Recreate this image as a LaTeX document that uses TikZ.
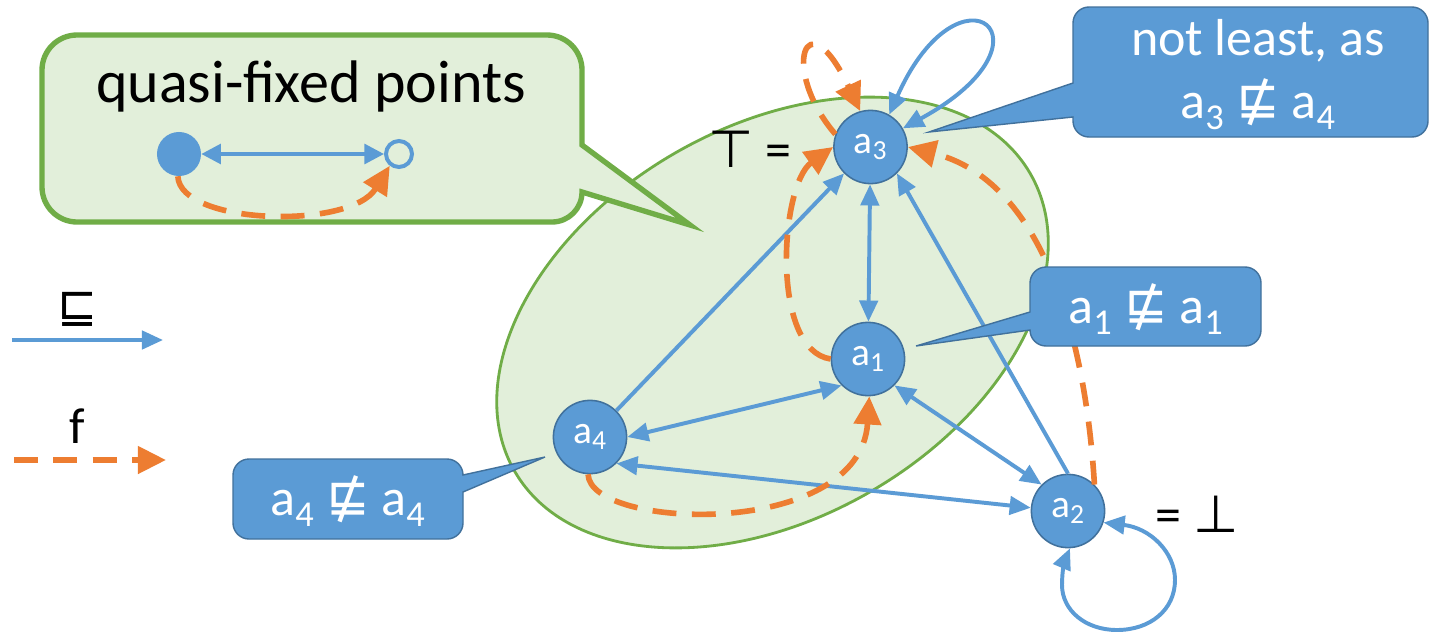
\documentclass[tikz,border=0pt]{standalone}
\usepackage{fontspec}
\setmainfont{Carlito}
\newfontfamily\symf{DejaVu Sans}
\usetikzlibrary{shapes.geometric,arrows.meta}
\definecolor{ublue}{HTML}{5B9BD5}
\definecolor{dblue}{HTML}{41719C}
\definecolor{uorange}{HTML}{ED7D31}
\definecolor{ugreen}{HTML}{70AD47}
\definecolor{lgreen}{HTML}{E2EFDA}
\newcommand\nsq{{\symf ⋢}}
\newcommand\sbs[1]{\textsubscript{#1}}
\begin{document}
\begin{tikzpicture}[x=0.025cm,y=-0.025cm,
  vert/.style={circle, fill=ublue, draw=dblue, line width=1.1pt, minimum size=1.83cm, inner sep=0pt, text=white, font=\fontsize{28}{30}\selectfont},
  le/.style={draw=ublue, line width=2.8pt, -{Triangle[length=15pt,width=13pt]}},
  ble/.style={draw=ublue, line width=2.8pt, {Triangle[length=15pt,width=13pt]}-{Triangle[length=15pt,width=13pt]}},
  fe/.style={draw=uorange, line width=4pt, dash pattern=on 17pt off 11pt, -{Triangle[length=20pt,width=19pt]}},
  calltext/.style={text=white, font=\fontsize{37}{45}\selectfont, anchor=base, inner sep=0pt},
  lab/.style={font=\fontsize{37}{45}\selectfont, anchor=base, inner sep=0pt},
  bcall/.style={fill=ublue, draw=dblue, line width=1pt},
  gcall/.style={fill=lgreen, draw=ugreen, line width=3.8pt}
]
\useasboundingbox (0,0) rectangle (1431,631);
\fill[white] (0,0) rectangle (1431,631);

% ellipse
\node[ellipse, fill=lgreen, draw=ugreen, line width=2pt, minimum width=14.88cm, minimum height=9.77cm, inner sep=0pt, rotate=30] (ell) at (772.5,322.5) {};

% green callout
\filldraw[gcall] (77,35) -- (547,35) .. controls (566.3,35) and (582,50.7) .. (582,70) -- (582,145) -- (690,225) -- (582,192) .. controls (582,208.6) and (568.6,222) .. (552,222) -- (77,222) .. controls (57.7,222) and (42,206.3) .. (42,187) -- (42,70) .. controls (42,50.7) and (57.7,35) .. (77,35) -- cycle;
\node[font=\fontsize{42.7}{48}\selectfont, anchor=base, inner sep=0pt] (qt) at (311,102) {quasi-fixed points};
\node[circle, fill=ublue, minimum size=1.1cm, inner sep=0pt] (qa) at (179,154) {};
\node[circle, draw=ublue, line width=2.8pt, fill=lgreen, minimum size=0.65cm, inner sep=0pt] (qb) at (399,154) {};
\draw[draw=ublue, line width=2.8pt, {Triangle[length=14pt,width=14pt]}-{Triangle[length=14pt,width=14pt]}] (qa) -- (qb);
\draw[fe] (qa.-93) .. controls (180,225) and (350,230) .. (qb.-128);

% legend
\node[font=\fontsize{34}{40}\selectfont, anchor=base, inner sep=0pt] (lsq) at (78,322) {\symf ⊑};
\coordinate (l1a) at (12,340);
\coordinate (l1b) at (163,340);
\draw[le] (l1a) -- (l1b);
\node[font=\fontsize{36}{40}\selectfont, anchor=base, inner sep=0pt] (lf) at (77,443) {f};
\coordinate (l2a) at (14,460);
\coordinate (l2b) at (166,460);
\draw[fe] (l2a) -- (l2b);

% nodes
\node[vert] (a3) at (870.5,147) {a\sbs{3}};
\node[vert] (a1) at (868,359) {a\sbs{1}};
\node[vert] (a4) at (590,437) {a\sbs{4}};
\node[vert] (a2) at (1068,511) {a\sbs{2}};

% blue edges
\draw[ble] (a3) -- (a1);
\draw[le] (a4.45) -- (a3.-135);
\draw[le] (a2.90) -- (a3.-45);
\draw[ble] (a4.0) -- (a1.-135);
\draw[ble] (a1.-45) -- (a2.135);
\draw[ble] (a4.-45) -- (a2.175);
\draw[ble] (a3.60) .. controls (960,-45) and (1065,40) .. (a3.30);
\draw[ble] (a2.-18) .. controls (1150,528) and (1175,552) .. (1175,580) .. controls (1175,610) and (1150,630) .. (1117,630) .. controls (1085,630) and (1062,610) .. (1062,585) .. controls (1062,570) and (1065,560) .. (a2.-87);

% orange edges
\draw[fe] (a3.160) .. controls (780,70) and (805,-5) .. (a3.106);
\draw[fe] (a1.180) .. controls (770,350) and (780,185) .. (a3.180);
\draw[fe] (a2.45) .. controls (1085,330) and (1040,180) .. (a3.0);
\draw[fe] (a4.-93) .. controls (590,530) and (860,540) .. (a1.-88);

% labels
\node[lab] (toplab) at (750,167) {{\symf ⊤} =};
\node[lab] (botlab) at (1197,532) {= {\symf ⊥}};

% blue callouts
\filldraw[bcall] (1089,7) -- (1412,7) .. controls (1420.8,7) and (1428,14.2) .. (1428,23) -- (1428,121) .. controls (1428,129.8) and (1420.8,137) .. (1412,137) -- (1089,137) .. controls (1080.2,137) and (1073,129.8) .. (1073,121) -- (1073,117) -- (929,132) -- (1073,83) -- (1073,23) .. controls (1073,14.2) and (1080.2,7) .. (1089,7) -- cycle;
\node[calltext] (t1) at (1258,55) {not least, as};
\node[calltext] (t2) at (1258,118) {a\sbs{3} \nsq{} a\sbs{4}};

\filldraw[bcall] (1046,267) -- (1245,267) .. controls (1253.8,267) and (1261,274.2) .. (1261,283) -- (1261,330) .. controls (1261,338.8) and (1253.8,346) .. (1245,346) -- (1046,346) .. controls (1037.2,346) and (1030,338.8) .. (1030,330) -- (916,346) -- (1030,312) -- (1030,283) .. controls (1030,274.2) and (1037.2,267) .. (1046,267) -- cycle;
\node[calltext] (t3) at (1146,323) {a\sbs{1} \nsq{} a\sbs{1}};

\filldraw[bcall] (249,459) -- (447,459) .. controls (455.8,459) and (463,466.2) .. (463,475) -- (545,457) -- (463,492) -- (463,523) .. controls (463,531.8) and (455.8,539) .. (447,539) -- (249,539) .. controls (240.2,539) and (233,531.8) .. (233,523) -- (233,475) .. controls (233,466.2) and (240.2,459) .. (249,459) -- cycle;
\node[calltext] (t4) at (348,515) {a\sbs{4} \nsq{} a\sbs{4}};
\end{tikzpicture}
\end{document}
